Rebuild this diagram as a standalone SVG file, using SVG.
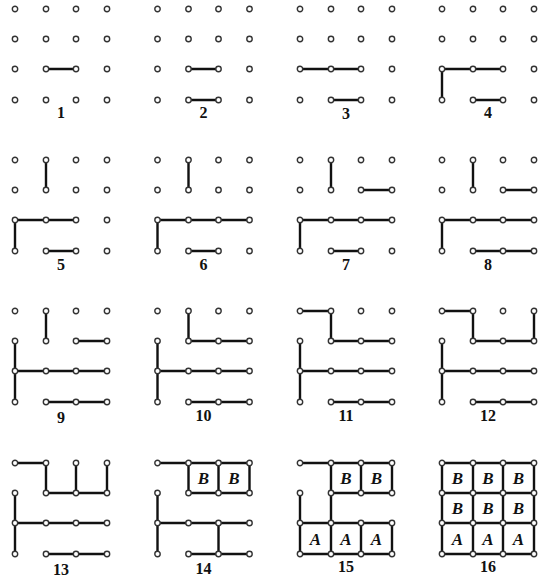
<svg xmlns="http://www.w3.org/2000/svg" xmlns:xlink="http://www.w3.org/1999/xlink" width="552" height="583" viewBox="0 0 552 583">
<style>
.e{fill:none;stroke:#111;stroke-width:2.4;stroke-linecap:round;stroke-linejoin:round}
.d{fill:#fff;stroke:#333;stroke-width:1.4}
.n{font-family:"Liberation Serif","DejaVu Serif",serif;font-size:16px;font-weight:bold;text-anchor:middle;fill:#111}
.l{font-family:"Liberation Serif","DejaVu Serif",serif;font-size:17px;font-style:italic;font-weight:bold;text-anchor:middle;fill:#111}
</style>
<defs>
<g id="dots">
<circle class="d" cx="0" cy="0" r="2.7"/><circle class="d" cx="31" cy="0" r="2.7"/><circle class="d" cx="61" cy="0" r="2.7"/><circle class="d" cx="92" cy="0" r="2.7"/>
<circle class="d" cx="0" cy="30" r="2.7"/><circle class="d" cx="31" cy="30" r="2.7"/><circle class="d" cx="61" cy="30" r="2.7"/><circle class="d" cx="92" cy="30" r="2.7"/>
<circle class="d" cx="0" cy="60" r="2.7"/><circle class="d" cx="31" cy="60" r="2.7"/><circle class="d" cx="61" cy="60" r="2.7"/><circle class="d" cx="92" cy="60" r="2.7"/>
<circle class="d" cx="0" cy="91" r="2.7"/><circle class="d" cx="31" cy="91" r="2.7"/><circle class="d" cx="61" cy="91" r="2.7"/><circle class="d" cx="92" cy="91" r="2.7"/>
</g>
</defs>
<rect width="552" height="583" fill="#fff"/>
<g id="connectors">
<path class="e" transform="translate(15,9)" d="M31 60H61"/>
<path class="e" transform="translate(157.5,9)" d="M31 60H61M31 91H61"/>
<path class="e" transform="translate(300,9)" d="M0 60H61M31 91H61"/>
<path class="e" transform="translate(442,9)" d="M0 91V60H61M31 91H61"/>
<path class="e" transform="translate(15,160)" d="M31 0V30M0 91V60H61M31 91H61"/>
<path class="e" transform="translate(157.5,160)" d="M31 0V30M0 91V60H92M31 91H61"/>
<path class="e" transform="translate(300,160)" d="M31 0V30M61 30H92M0 91V60H92M31 91H61"/>
<path class="e" transform="translate(442,160)" d="M31 0V30M61 30H92M0 91V60H92M31 91H92"/>
<path class="e" transform="translate(15,311)" d="M31 0V30M61 30H92M0 30V91M0 60H92M31 91H92"/>
<path class="e" transform="translate(157.5,311)" d="M31 0V30H92M0 30V91M0 60H92M31 91H92"/>
<path class="e" transform="translate(300,311)" d="M0 0H31V30H92M0 30V91M0 60H92M31 91H92"/>
<path class="e" transform="translate(442,311)" d="M0 0H31V30H92V0M0 30V91M0 60H92M31 91H92"/>
<path class="e" transform="translate(15,463)" d="M0 0H31V30H92V0M61 0V30M0 30V91M0 60H92M31 91H92"/>
<path class="e" transform="translate(157.5,463)" d="M0 0H92M31 0V30H92V0M61 0V30M0 30V91M0 60H92M61 60V91M31 91H92"/>
<path class="e" transform="translate(300,463)" d="M0 0H92M31 0V60M31 30H92V0M61 0V30M0 30V91H92V60M0 60H92M31 60V91M61 60V91"/>
<path class="e" transform="translate(442,463)" d="M0 0H92V91H0ZM31 0V91M61 0V91M0 30H92M0 60H92"/>
</g>
<g id="panel-1" transform="translate(15,9)"><use xlink:href="#dots"/><text class="n" x="46" y="109">1</text></g>
<g id="panel-2" transform="translate(157.5,9)"><use xlink:href="#dots"/><text class="n" x="46" y="109">2</text></g>
<g id="panel-3" transform="translate(300,9)"><use xlink:href="#dots"/><text class="n" x="46" y="110">3</text></g>
<g id="panel-4" transform="translate(442,9)"><use xlink:href="#dots"/><text class="n" x="46" y="109">4</text></g>
<g id="panel-5" transform="translate(15,160)"><use xlink:href="#dots"/><text class="n" x="46" y="110">5</text></g>
<g id="panel-6" transform="translate(157.5,160)"><use xlink:href="#dots"/><text class="n" x="46" y="110">6</text></g>
<g id="panel-7" transform="translate(300,160)"><use xlink:href="#dots"/><text class="n" x="46" y="110">7</text></g>
<g id="panel-8" transform="translate(442,160)"><use xlink:href="#dots"/><text class="n" x="46" y="110">8</text></g>
<g id="panel-9" transform="translate(15,311)"><use xlink:href="#dots"/><text class="n" x="46" y="112">9</text></g>
<g id="panel-10" transform="translate(157.5,311)"><use xlink:href="#dots"/><text class="n" x="46" y="110">10</text></g>
<g id="panel-11" transform="translate(300,311)"><use xlink:href="#dots"/><text class="n" x="46" y="110">11</text></g>
<g id="panel-12" transform="translate(442,311)"><use xlink:href="#dots"/><text class="n" x="46" y="110">12</text></g>
<g id="panel-13" transform="translate(15,463)"><use xlink:href="#dots"/><text class="n" x="46" y="112">13</text></g>
<g id="panel-14" transform="translate(157.5,463)"><use xlink:href="#dots"/><text class="n" x="46" y="111">14</text>
<text class="l" x="46" y="21">B</text><text class="l" x="76.5" y="21">B</text></g>
<g id="panel-15" transform="translate(300,463)"><use xlink:href="#dots"/><text class="n" x="46" y="109">15</text>
<text class="l" x="46" y="21">B</text><text class="l" x="76.5" y="21">B</text>
<text class="l" x="15.5" y="82">A</text><text class="l" x="46" y="82">A</text><text class="l" x="76.5" y="82">A</text></g>
<g id="panel-16" transform="translate(442,463)"><use xlink:href="#dots"/><text class="n" x="46" y="109">16</text>
<text class="l" x="15.5" y="21">B</text><text class="l" x="46" y="21">B</text><text class="l" x="76.5" y="21">B</text>
<text class="l" x="15.5" y="51">B</text><text class="l" x="46" y="51">B</text><text class="l" x="76.5" y="51">B</text>
<text class="l" x="15.5" y="82">A</text><text class="l" x="46" y="82">A</text><text class="l" x="76.5" y="82">A</text></g>
</svg>
